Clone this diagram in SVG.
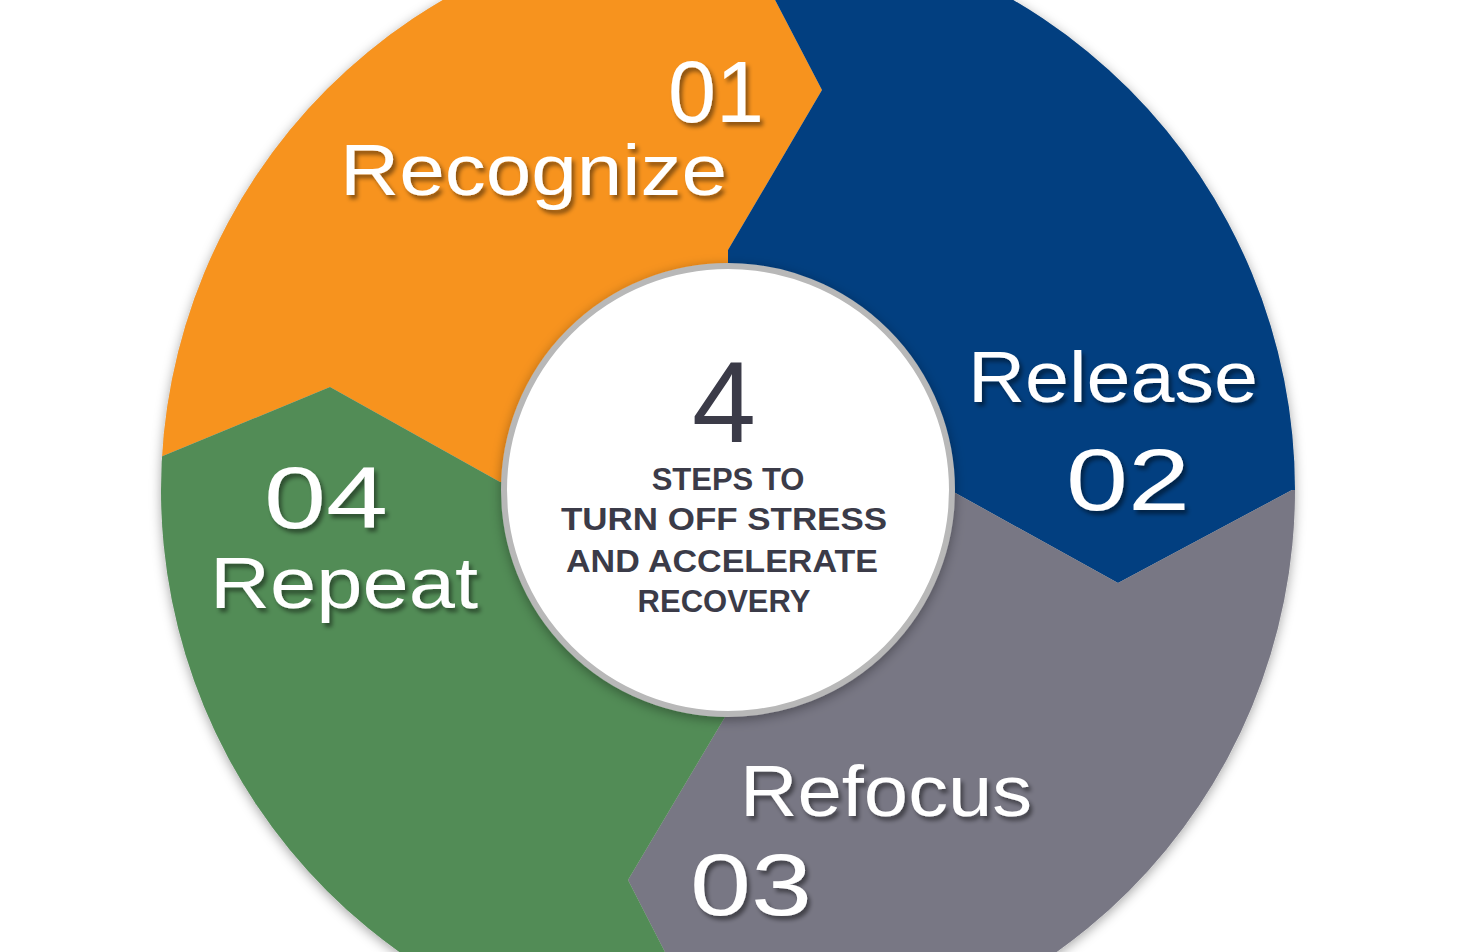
<svg xmlns="http://www.w3.org/2000/svg" width="1470" height="952" viewBox="0 0 1470 952">
<defs>
<clipPath id="outer"><circle cx="728" cy="490" r="567"/></clipPath>
<filter id="ts" x="-10%" y="-10%" width="130%" height="140%"><feDropShadow dx="3" dy="4" stdDeviation="2" flood-color="#000" flood-opacity="0.45"/></filter>
<filter id="cs" x="-10%" y="-10%" width="120%" height="120%"><feDropShadow dx="0" dy="3" stdDeviation="6" flood-color="#000" flood-opacity="0.35"/></filter>
</defs>
<style>
.lbl{fill:#fff;font-family:"Liberation Sans",Arial,sans-serif;filter:url(#ts)}
.ct{fill:#3b3b48;font-family:"Liberation Sans",Arial,sans-serif;font-weight:bold;font-size:31px;text-anchor:middle}
</style>
<rect width="1470" height="952" fill="#fff"/>
<circle cx="728" cy="490" r="567" fill="#ccc" filter="url(#cs)"/>
<g clip-path="url(#outer)">
<g id="step1"><polygon fill="#F7931E" points="728,490 500,482 330,387 100,482 100,-100 723,-100 822,90 728,250"/></g>
<g id="step2"><polygon fill="#023F80" points="728,490 728,250 822,90 723,-100 1400,-100 1400,490 1292,490 1118,583 950,490"/></g>
<g id="step3"><polygon fill="#787784" points="728,490 950,490 1118,583 1292,490 1400,490 1400,1100 741,1100 628,880 728,712"/></g>
<g id="step4"><polygon fill="#528C56" points="728,490 728,712 628,880 741,1100 0,1100 0,482 100,482 330,387 500,482"/></g>
</g>
<g id="connectors"/>
<g id="center">
<circle cx="728" cy="490" r="224" fill="#fff" stroke="#b8b8b8" stroke-width="6" filter="url(#cs)"/>
<text x="724" y="442" class="ct" style="font-weight:normal;font-size:115px">4</text>
<text x="728" y="490" class="ct">STEPS TO</text>
<text x="724" y="530" class="ct" textLength="326" lengthAdjust="spacingAndGlyphs">TURN OFF STRESS</text>
<text x="722" y="572" class="ct" textLength="312" lengthAdjust="spacingAndGlyphs">AND ACCELERATE</text>
<text x="724" y="612" class="ct">RECOVERY</text>
</g>
<g id="labels">
<text class="lbl" x="668" y="122" font-size="88" textLength="96" lengthAdjust="spacingAndGlyphs">01</text>
<text class="lbl" x="340" y="195" font-size="72" textLength="387" lengthAdjust="spacingAndGlyphs">Recognize</text>
<text class="lbl" x="968" y="402" font-size="72" textLength="290" lengthAdjust="spacingAndGlyphs">Release</text>
<text class="lbl" x="1066" y="510" font-size="88" textLength="124" lengthAdjust="spacingAndGlyphs">02</text>
<text class="lbl" x="740" y="816" font-size="72" textLength="292" lengthAdjust="spacingAndGlyphs">Refocus</text>
<text class="lbl" x="690" y="915" font-size="88" textLength="122" lengthAdjust="spacingAndGlyphs">03</text>
<text class="lbl" x="264" y="528" font-size="88" textLength="124" lengthAdjust="spacingAndGlyphs">04</text>
<text class="lbl" x="210" y="608" font-size="72" textLength="268" lengthAdjust="spacingAndGlyphs">Repeat</text>
</g>
</svg>
